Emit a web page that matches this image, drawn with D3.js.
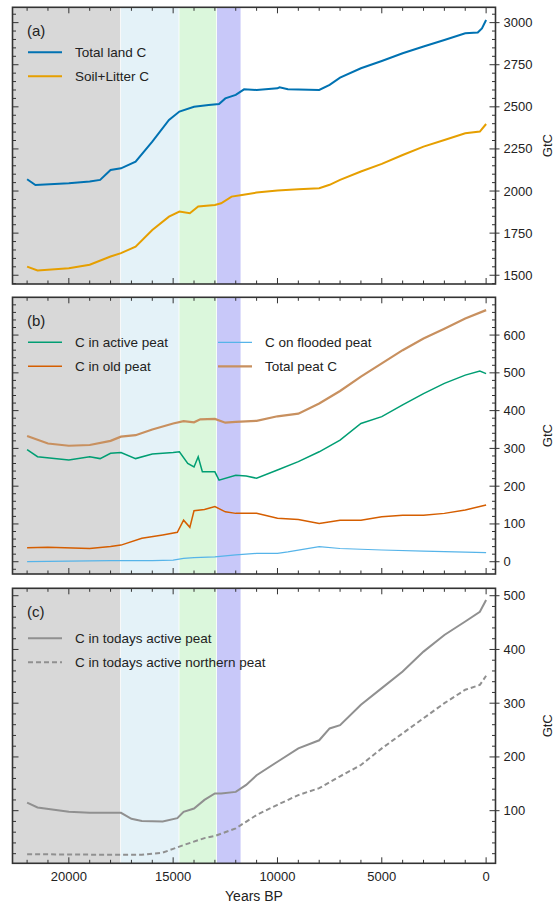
<!DOCTYPE html>
<html><head><meta charset="utf-8">
<script src="https://cdn.jsdelivr.net/npm/d3@7"></script>
<style>body{margin:0;background:#fff}text{font-family:"Liberation Sans",Arial,sans-serif;fill:#222}</style>
</head><body><svg id="c" width="559" height="909"></svg>
<script>
const years=[22000,21500,21000,20000,19000,18500,18000,17500,17000,16800,16500,16000,15500,15200,15000,14800,14700,14500,14300,14200,14000,13800,13700,13600,13500,13300,13000,12800,12700,12500,12200,12000,11700,11600,11500,11000,10000,9900,9500,9000,8000,7500,7000,6000,5000,4000,3000,2000,1000,400,300,200,0];
// [year,value] pairs per series
const totalLand=[[22000,2070],[21600,2036],[20000,2046],[19000,2056],[18500,2066],[18000,2125],[17500,2135],[16800,2175],[16000,2293],[15200,2422],[14700,2472],[14000,2500],[13300,2511],[12800,2517],[12500,2550],[12000,2571],[11600,2604],[11000,2600],[10000,2610],[9900,2616],[9500,2604],[8000,2600],[7500,2630],[7000,2673],[6000,2729],[5000,2772],[4000,2818],[3000,2858],[2000,2897],[1000,2937],[400,2941],[200,2966],[0,3016]];
const soilLitter=[[22000,1551],[21500,1528],[20000,1542],[19000,1562],[18000,1611],[17500,1631],[16800,1670],[16000,1769],[15200,1848],[14700,1878],[14200,1868],[13800,1908],[13000,1917],[12700,1927],[12200,1967],[11700,1977],[11000,1991],[10000,2003],[9000,2011],[8000,2017],[7500,2037],[7000,2066],[6000,2116],[5000,2161],[4000,2214],[3000,2264],[2000,2303],[1000,2343],[300,2353],[0,2398]];
const totalPeat=[[22000,333],[21000,313],[20000,307],[19000,309],[18000,320],[17500,331],[16800,335],[16000,350],[15000,366],[14500,372],[14000,369],[13700,377],[13000,378],[12500,368],[12000,370],[11000,373],[10000,385],[9000,392],[8000,419],[7000,452],[6000,490],[5000,525],[4000,560],[3000,591],[2000,617],[1000,644],[0,666]];
const activePeat=[[22000,297],[21500,278],[20000,269],[19000,278],[18500,273],[18000,287],[17500,289],[16800,273],[16000,285],[15000,289],[14700,291],[14300,260],[14000,251],[13800,278],[13600,238],[13000,238],[12800,216],[12000,229],[11500,227],[11000,221],[10000,243],[9000,265],[8000,291],[7000,322],[6000,366],[5000,384],[4000,415],[3000,445],[2000,472],[1000,494],[300,505],[0,498]];
const oldPeat=[[22000,37],[21000,38],[19000,35],[18000,40],[17500,44],[16500,62],[15500,71],[14800,78],[14500,110],[14200,91],[14000,135],[13500,138],[13000,146],[12500,132],[12000,128],[11000,128],[10000,115],[9000,112],[8000,101],[7000,110],[6000,110],[5000,119],[4000,123],[3000,123],[2000,128],[1000,137],[0,150]];
const floodedPeat=[[22000,0],[18000,3],[16000,3],[15000,4],[14500,9],[14000,11],[13000,13],[12000,18],[11000,22],[10000,22],[9500,26],[8000,40],[7000,35],[5000,31],[3000,28],[0,24]];
const todayActive=[[22000,115],[21500,106],[20000,98],[19000,96],[18000,96],[17500,96],[17000,85],[16500,81],[15500,80],[14800,86],[14500,98],[14000,104],[13500,120],[13000,132],[12700,132],[12000,135],[11500,148],[11000,166],[10000,191],[9000,216],[8000,231],[7500,253],[7000,259],[6000,297],[5000,328],[4000,359],[3000,396],[2000,427],[1000,452],[300,470],[0,492]];
const todayNorth=[[22000,19],[18000,18],[16500,18],[15500,22],[15000,29],[14500,36],[13500,49],[13000,53],[12000,67],[11000,92],[10000,111],[9000,129],[8000,142],[7000,164],[6000,185],[5000,216],[4000,244],[3000,272],[2000,300],[1000,325],[300,334],[0,351]];
const bands=[[22700,17500,"#d8d8d8"],[17500,14700,"#e4f2f8"],[14700,12900,"#dbf7dc"],[12900,11730,"#c8c8f9"]];
const xTicks=[20000,15000,10000,5000,0];
const aTicks=[1500,1750,2000,2250,2500,2750,3000];
const bTicks=[0,100,200,300,400,500,600];
const cTicks=[100,200,300,400,500];

const svg=d3.select("#c");
const L=12.5,R=495.5;
const x=d3.scaleLinear().domain([22700,-450]).range([L,R]);
const panels=[
 {top:7.3,bot:284,dom:[1448,3091],ticks:aTicks,minor:50,label:"(a)",
  series:[{d:totalLand,c:"#0072B2",n:"Total land C"},{d:soilLitter,c:"#E69F00",n:"Soil+Litter C"}]},
 {top:297.3,bot:574,dom:[-32.5,700],ticks:bTicks,minor:20,label:"(b)",
  series:[{d:activePeat,c:"#009E73",n:"C in active peat",w:1.5},{d:oldPeat,c:"#D55E00",n:"C in old peat",w:1.5},{d:floodedPeat,c:"#56B4E9",n:"C on flooded peat",w:1.2},{d:totalPeat,c:"#C8905F",n:"Total peat C",w:2.2}]},
 {top:588.3,bot:863.3,dom:[2.1,513.8],ticks:cTicks,minor:20,label:"(c)",
  series:[{d:todayActive,c:"#909090",n:"C in todays active peat",w:2},{d:todayNorth,c:"#909090",n:"C in todays active northern peat",w:2,dash:"5,3"}]}
];
panels.forEach((p,pi)=>{
  const y=d3.scaleLinear().domain(p.dom).range([p.bot,p.top]);
  const g=svg.append("g");
  bands.forEach(b=>g.append("rect").attr("x",x(b[0])).attr("width",x(b[1])-x(b[0])-0.8).attr("y",p.top).attr("height",p.bot-p.top).attr("fill",b[2]));
  p.series.forEach(s=>{
    g.append("path").datum(s.d).attr("fill","none").attr("stroke",s.c).attr("stroke-width",s.w||2)
     .attr("stroke-dasharray",s.dash||null).attr("d",d3.line().x(d=>x(d[0])).y(d=>y(d[1])));
  });
  // ticks
  const minorX=d3.range(0,22001,1000);
  minorX.forEach(v=>{const len=xTicks.includes(v)?6:3.5;
    g.append("line").attr("x1",x(v)).attr("x2",x(v)).attr("y1",p.bot).attr("y2",p.bot-len).attr("stroke","#333").attr("stroke-width",1);
    g.append("line").attr("x1",x(v)).attr("x2",x(v)).attr("y1",p.top).attr("y2",p.top+len).attr("stroke","#333").attr("stroke-width",1);});
  const yt=d3.range(Math.ceil(p.dom[0]/p.minor)*p.minor,p.dom[1],p.minor);
  yt.forEach(v=>{const maj=p.ticks.includes(v),len=maj?6:3.5;
    g.append("line").attr("x1",L).attr("x2",L+len).attr("y1",y(v)).attr("y2",y(v)).attr("stroke","#333");
    g.append("line").attr("x1",R).attr("x2",R-len).attr("y1",y(v)).attr("y2",y(v)).attr("stroke","#333");
    if(maj){g.append("line").attr("x1",R).attr("x2",R+4).attr("y1",y(v)).attr("y2",y(v)).attr("stroke","#333");
      g.append("text").attr("x",R+8).attr("y",y(v)+4.5).attr("font-size",13).text(v);}
  });
  g.append("rect").attr("x",L).attr("y",p.top).attr("width",R-L).attr("height",p.bot-p.top).attr("fill","none").attr("stroke","#333").attr("stroke-width",1.6);
  g.append("text").attr("x",548).attr("y",(p.top+p.bot)/2).attr("font-size",13).attr("text-anchor","middle")
   .attr("transform",`rotate(-90,548,${(p.top+p.bot)/2})`).attr("dy",4).text("GtC");
  g.append("text").attr("x",27).attr("y",p.top+29).attr("font-size",15).text(p.label);
  p.series.forEach((s,i)=>{
    const col=pi===1?(i%2===0?0:1):0,row=pi===1?Math.floor(i/2):i;
    // panel b: order active(0,0), old(0,1), flooded(1,0), total(1,1)
    let cx,ry;
    if(pi===1){const pos=[[0,0],[0,1],[1,0],[1,1]][i];cx=pos[0];ry=pos[1];}else{cx=0;ry=i;}
    const lx=28+cx*190, ly=p.top+(pi===2?50:45)+ry*24;
    g.append("line").attr("x1",lx).attr("x2",lx+34).attr("y1",ly).attr("y2",ly).attr("stroke",s.c).attr("stroke-width",s.w||2).attr("stroke-dasharray",s.dash||null);
    g.append("text").attr("x",lx+47).attr("y",ly+5).attr("font-size",13.5).text(s.n);
  });
  if(pi===2){xTicks.forEach(v=>svg.append("text").attr("x",x(v)).attr("y",p.bot+18).attr("font-size",13).attr("text-anchor","middle").text(v));
    svg.append("text").attr("x",(L+R)/2).attr("y",p.bot+38).attr("font-size",14).attr("text-anchor","middle").text("Years BP");}
});
</script></body></html>
